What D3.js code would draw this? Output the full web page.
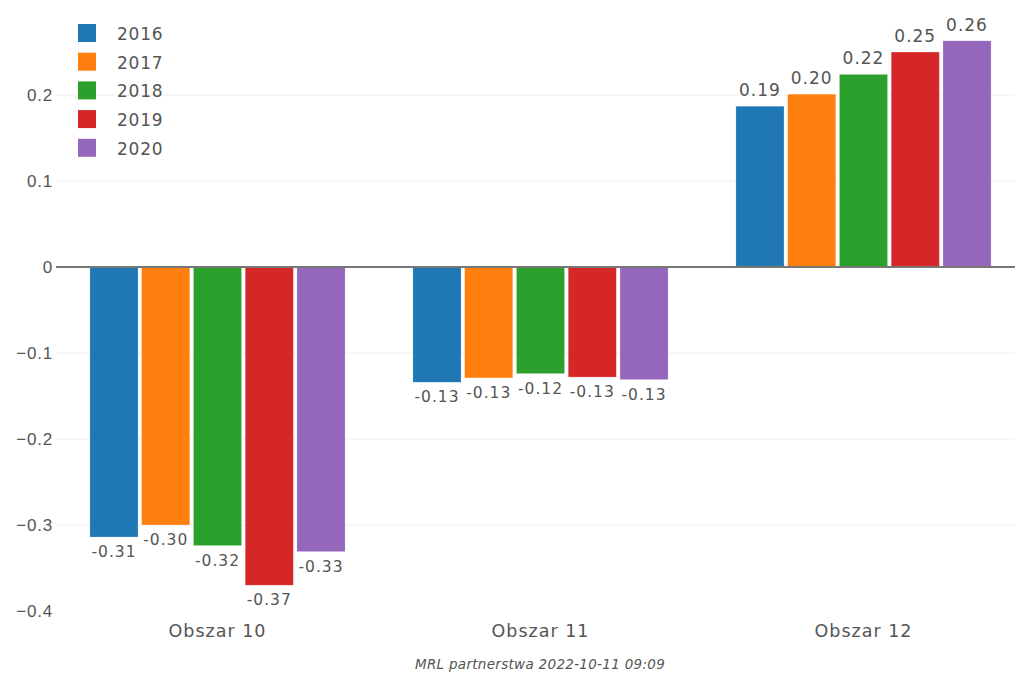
<!DOCTYPE html>
<html>
<head>
<meta charset="utf-8">
<script src="https://cdn.jsdelivr.net/npm/d3@7"></script>
<style>
  body { margin: 0; background: #fff; }
  svg { font-family: "DejaVu Sans", Verdana, sans-serif; }
</style>
</head>
<body>
<div id="chart"></div>
<script>
// Data
const categories = ['Obszar 10', 'Obszar 11', 'Obszar 12'];
const years = ['2016', '2017', '2018', '2019', '2020'];
const colors = ['#1f77b4', '#ff7f0e', '#2ca02c', '#d62728', '#9467bd'];
const values = {
  '2016': [-0.314, -0.134, 0.187],
  '2017': [-0.300, -0.129, 0.201],
  '2018': [-0.324, -0.124, 0.224],
  '2019': [-0.370, -0.128, 0.250],
  '2020': [-0.331, -0.131, 0.263]
};
const yTicks = [-0.4, -0.3, -0.2, -0.1, 0, 0.1, 0.2];
const footer = 'MRL partnerstwa 2022-10-11 09:09';

const width = 1015;
const height = 673;
const margin = { top: 10, right: -10, bottom: 62, left: 56 };

const svg = d3.select('#chart').append('svg')
  .attr('width', width)
  .attr('height', height);

// Scales
const x0 = d3.scaleBand()
  .domain(categories)
  .range([margin.left, width - margin.right])
  .paddingInner(0.21)
  .paddingOuter(0.105);

const x1 = d3.scaleBand()
  .domain(years)
  .range([0, x0.bandwidth()])
  .paddingInner(0.07);

const y = d3.scaleLinear()
  .domain([-0.4, 0.2])
  .range([611, 95]);

// Grid lines
svg.append('g')
  .selectAll('line')
  .data(yTicks.filter(d => d !== 0 && d !== -0.4))
  .join('line')
  .attr('x1', margin.left)
  .attr('x2', width)
  .attr('y1', d => y(d))
  .attr('y2', d => y(d))
  .attr('stroke', '#eee')
  .attr('stroke-width', 1);

// Y axis labels
const yAxis = d3.axisLeft(y)
  .tickValues(yTicks)
  .tickSize(0)
  .tickPadding(3)
  .tickFormat(d => d === 0 ? '0' : d3.format('.1f')(d));

svg.append('g')
  .attr('transform', `translate(${margin.left},0)`)
  .call(yAxis)
  .call(g => g.select('.domain').remove())
  .selectAll('text')
  .attr('fill', '#555')
  .style('font-size', '17px')
  .style('letter-spacing', '0.8px');

// Bars
const groups = svg.append('g')
  .selectAll('g')
  .data(years)
  .join('g')
  .attr('fill', (d, i) => colors[i]);

groups.selectAll('rect')
  .data(yr => categories.map((c, i) => ({ cat: c, year: yr, v: values[yr][i] })))
  .join('rect')
  .attr('x', d => x0(d.cat) + x1(d.year))
  .attr('width', x1.bandwidth())
  .attr('y', d => y(Math.max(0, d.v)))
  .attr('height', d => Math.abs(y(d.v) - y(0)))
  .attr('stroke', '#fff')
  .attr('stroke-opacity', 0.5)
  .attr('stroke-width', 0.5);

// Value labels (hyphen as minus, like the original)
groups.selectAll('text')
  .data(yr => categories.map((c, i) => ({ cat: c, year: yr, v: values[yr][i] })))
  .join('text')
  .attr('x', d => x0(d.cat) + x1(d.year) + x1.bandwidth() / 2)
  .attr('y', d => d.v >= 0 ? y(d.v) - 10 : y(d.v) + 20)
  .attr('text-anchor', 'middle')
  .attr('fill', '#555')
  .style('font-size', d => d.v >= 0 ? '17px' : '15.5px')
  .style('letter-spacing', '1px')
  .text(d => d3.format('.2f')(d.v).replace('\u2212', '-'));

// Zero line
svg.append('line')
  .attr('x1', margin.left)
  .attr('x2', width)
  .attr('y1', y(0))
  .attr('y2', y(0))
  .attr('stroke', '#777')
  .attr('stroke-width', 2);

// Category labels
svg.append('g')
  .selectAll('text')
  .data(categories)
  .join('text')
  .attr('x', d => x0(d) + x0.bandwidth() / 2)
  .attr('y', 637)
  .attr('text-anchor', 'middle')
  .attr('fill', '#555')
  .style('font-size', '17.5px')
  .style('letter-spacing', '1px')
  .text(d => d);

// Legend
const legend = svg.append('g')
  .selectAll('g')
  .data(years)
  .join('g')
  .attr('transform', (d, i) => `translate(78,${24 + i * 28.7})`);

legend.append('rect')
  .attr('width', 18)
  .attr('height', 18)
  .attr('fill', (d, i) => colors[i]);

legend.append('text')
  .attr('x', 39)
  .attr('y', 16)
  .attr('fill', '#555')
  .style('font-size', '17px')
  .style('letter-spacing', '0.8px')
  .text(d => d);

// Footer
svg.append('text')
  .attr('x', 540)
  .attr('y', 669)
  .attr('text-anchor', 'middle')
  .attr('fill', '#555')
  .style('font-size', '13.5px')
  .style('letter-spacing', '0.3px')
  .style('font-style', 'italic')
  .text(footer);
</script>
</body>
</html>
